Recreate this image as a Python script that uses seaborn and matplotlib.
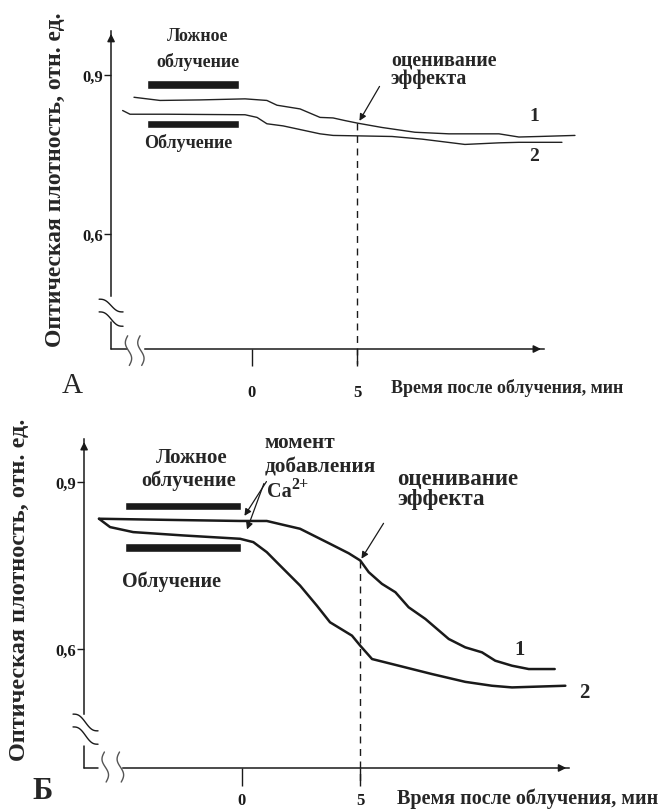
import matplotlib
matplotlib.use("Agg")
import matplotlib.pyplot as plt
import seaborn as sns
import numpy as np
import pandas as pd

sns.set_theme(style="white")
plt.rcParams["font.family"] = ["Liberation Serif", "DejaVu Serif"]
plt.rcParams["font.weight"] = "bold"

# ---------------- data (time, min ; optical density, rel. units) ----------------
a_t1 = [-5.62, -4.38, -2.48, -0.33, 0.71, 1.19, 2.29, 3.24, 3.86, 4.43, 5.05,
        6.19, 7.76, 9.38, 11.76, 12.71, 13.67, 15.38]
a_v1 = [0.858, 0.852, 0.853, 0.855, 0.852, 0.843, 0.836, 0.820, 0.819, 0.814,
        0.809, 0.801, 0.792, 0.789, 0.789, 0.783, 0.784, 0.786]
a_t2 = [-6.16, -5.81, -4.05, -0.33, 0.24, 0.71, 1.48, 3.24, 3.86, 6.67, 8.10,
        10.14, 11.76, 12.71, 14.76]
a_v2 = [0.833, 0.826, 0.826, 0.825, 0.820, 0.808, 0.804, 0.789, 0.786, 0.784,
        0.779, 0.769, 0.772, 0.773, 0.773]

b_t1 = [-6.06, -3.19, -0.08, 1.05, 1.75, 2.46, 3.73, 4.52, 5.01, 5.37, 5.93,
        6.50, 7.06, 7.77, 8.76, 9.46, 10.17, 10.73, 11.44, 12.15, 13.25]
b_v1 = [0.834, 0.832, 0.830, 0.830, 0.823, 0.816, 0.789, 0.772, 0.759, 0.738,
        0.717, 0.702, 0.675, 0.654, 0.618, 0.603, 0.594, 0.579, 0.570, 0.564, 0.564]
b_t2 = [-6.06, -5.59, -4.61, -2.49, -0.08, 0.48, 1.05, 1.47, 2.46, 3.17, 3.73,
        4.66, 5.01, 5.51, 6.64, 8.05, 9.46, 10.59, 11.44, 13.70]
b_v2 = [0.834, 0.819, 0.810, 0.804, 0.798, 0.792, 0.774, 0.756, 0.714, 0.678,
        0.648, 0.624, 0.606, 0.582, 0.570, 0.555, 0.541, 0.534, 0.531, 0.534]

y_ticks = [0.9, 0.6]
y_ticklabels = ["0,9", "0,6"]
x_ticks = [0, 5]
x_ticklabels = ["0", "5"]
eval_time = 5

a_bar_start = [-5.0, -5.0]
a_bar_end = [-0.62, -0.62]
a_bar_level = [0.882, 0.8075]
b_bar_start = [-4.96, -4.96]
b_bar_end = [-0.04, -0.04]
b_bar_level = [0.857, 0.782]

ylabel = "Оптическая плотность, отн. ед."
xlabel = "Время после облучения, мин"

fig = plt.figure(figsize=(6.64, 8.12), dpi=100)
axA = fig.add_axes([0, 412 / 812, 1, 400 / 812])
axB = fig.add_axes([0, 0, 1, 412 / 812])
for ax in (axA, axB):
    ax.patch.set_visible(False)
axA.set_xlim(-12, 19.62)
axA.set_ylim(0.2887, 1.0434)
axB.set_xlim(-10.254, 17.881)
axB.set_ylim(0.309, 1.0491)


def squiggle_h(ax, x0, x1, y0, y1, color="k"):
    s = np.linspace(0, 1, 50)
    x = x0 + (x1 - x0) * s
    y = y0 + (y1 - y0) * (s - np.sin(2 * np.pi * s) / (2 * np.pi))
    ax.plot(x, y, color=color, lw=1.0, clip_on=False)


def squiggle_v(ax, xc, amp, y0, y1, color="k"):
    s = np.linspace(0, 1, 50)
    y = y0 + (y1 - y0) * s
    x = xc - amp * np.sin(2 * np.pi * s) + amp * 0.6 * s
    ax.plot(x, y, color=color, lw=1.0, clip_on=False)


def frame(ax, yx, xv, ytop, xtip, ygap, xgap, xtick_len, xpad, ysq, xsq, sq_dx):
    for s in ["top", "right"]:
        ax.spines[s].set_visible(False)
    ax.spines["left"].set_position(("data", yx))
    ax.spines["bottom"].set_position(("data", xv))
    ax.spines["left"].set_bounds(ygap[1], ytop)
    ax.spines["bottom"].set_bounds(xgap[1], xtip)
    for s in ["left", "bottom"]:
        ax.spines[s].set_color("k")
        ax.spines[s].set_linewidth(1.1)
    ax.plot([yx, yx], [xv, ygap[0]], color="k", lw=1.1)
    ax.plot([yx, xgap[0]], [xv, xv], color="k", lw=1.1)
    ax.annotate("", xy=(yx, ytop), xytext=(yx, ytop - 0.02),
                arrowprops=dict(arrowstyle="-|>", color="k", lw=1.1, mutation_scale=11))
    ax.annotate("", xy=(xtip, xv), xytext=(xtip - 0.5, xv),
                arrowprops=dict(arrowstyle="-|>", color="k", lw=1.1, mutation_scale=11))
    ax.set_yticks(y_ticks, labels=y_ticklabels)
    ax.set_xticks(x_ticks, labels=x_ticklabels)
    ax.tick_params(axis="y", direction="out", length=5, width=1, pad=0.5,
                   labelsize=12, left=True, colors="k")
    ax.tick_params(axis="x", direction="out", length=xtick_len, width=1, pad=xpad,
                   labelsize=12, bottom=True, colors="k")
    for lab in ax.get_xticklabels() + ax.get_yticklabels():
        lab.set_fontweight("bold")
    ax.set_xlabel("")
    ax.set_ylabel("")
    # axis breaks
    for (y0, y1) in ysq:
        squiggle_h(ax, yx - sq_dx[0], yx + sq_dx[1], y0, y1)
    for xc in xsq[0]:
        squiggle_v(ax, xc, xsq[1], xsq[2], xsq[3], color="#555555")


# ---------------- panel A ----------------
frame(axA, -6.71, 0.383, 0.983, 13.9, (0.434, 0.483), (-5.95, -5.1), 12, 13,
      [(0.477, 0.453), (0.453, 0.426)], ([-5.92, -5.33], 0.13, 0.408, 0.352),
      (0.57, 0.57))
axA.barh(a_bar_level, np.array(a_bar_end) - np.array(a_bar_start), left=a_bar_start,
         height=0.016, color="k")
dfA1 = pd.DataFrame({"t": a_t1, "v": a_v1})
dfA2 = pd.DataFrame({"t": a_t2, "v": a_v2})
sns.lineplot(data=dfA1, x="t", y="v", ax=axA, color="#222222", lw=1.0,
             estimator=None, sort=False, legend=False)
sns.lineplot(data=dfA2, x="t", y="v", ax=axA, color="#222222", lw=1.0,
             estimator=None, sort=False, legend=False)
axA.set_xlabel("")
axA.set_ylabel("")
axA.plot([eval_time, eval_time], [0.809, 0.355], color="k", lw=1.0,
         ls=(0, (5, 4)), clip_on=False)
axA.annotate("", xy=(5.05, 0.809), xytext=(6.14, 0.883),
             arrowprops=dict(arrowstyle="-|>", color="k", lw=0.9, mutation_scale=10))
axA.text(-2.57, 0.974, "Ложное", ha="center", va="center", fontsize=13)
axA.text(-2.57, 0.926, "облучение", ha="center", va="center", fontsize=13)
axA.text(-3.02, 0.774, "Облучение", ha="center", va="center", fontsize=13)
axA.text(6.62, 0.930, "оценивание", ha="left", va="center", fontsize=14.3)
axA.text(6.62, 0.894, "эффекта", ha="left", va="center", fontsize=14.3)
axA.text(13.43, 0.823, "1", ha="center", va="center", fontsize=14)
axA.text(13.43, 0.749, "2", ha="center", va="center", fontsize=14)
axA.text(6.62, 0.311, xlabel, ha="left", va="center", fontsize=13)
axA.text(-8.57, 0.315, "А", ha="center", va="center", fontsize=21, fontweight="normal")
axA.text(-9.38, 0.704, ylabel, ha="center", va="center", rotation=90, fontsize=17)

# ---------------- panel Б ----------------
frame(axB, -6.69, 0.3863, 0.977, 13.86, (0.4258, 0.483), (-6.10, -5.04), 13, 4,
      [(0.483, 0.453), (0.46, 0.429)], ([-5.83, -5.19], 0.12, 0.415, 0.361),
      (0.47, 0.59))
axB.barh(b_bar_level, np.array(b_bar_end) - np.array(b_bar_start), left=b_bar_start,
         height=0.0155, color="k")
dfB1 = pd.DataFrame({"t": b_t1, "v": b_v1})
dfB2 = pd.DataFrame({"t": b_t2, "v": b_v2})
sns.lineplot(data=dfB1, x="t", y="v", ax=axB, color="k", lw=1.8,
             estimator=None, sort=False, legend=False)
sns.lineplot(data=dfB2, x="t", y="v", ax=axB, color="k", lw=1.8,
             estimator=None, sort=False, legend=False)
axB.set_xlabel("")
axB.set_ylabel("")
axB.plot([eval_time, eval_time], [0.758, 0.363], color="k", lw=1.0,
         ls=(0, (5, 4)), clip_on=False)
axB.annotate("", xy=(5.0, 0.758), xytext=(6.06, 0.83),
             arrowprops=dict(arrowstyle="-|>", color="k", lw=0.9, mutation_scale=10))
axB.annotate("", xy=(0.04, 0.835), xytext=(1.10, 0.905),
             arrowprops=dict(arrowstyle="-|>", color="k", lw=0.9, mutation_scale=10))
axB.annotate("", xy=(0.17, 0.81), xytext=(0.97, 0.902),
             arrowprops=dict(arrowstyle="-|>", color="k", lw=0.9, mutation_scale=10))
axB.text(-2.12, 0.945, "Ложное", ha="center", va="center", fontsize=15)
axB.text(-2.25, 0.9036, "облучение", ha="center", va="center", fontsize=14.7)
axB.text(-2.97, 0.7222, "Облучение", ha="center", va="center", fontsize=14.5)
axB.text(0.97, 0.9719, "момент", ha="left", va="center", fontsize=15.3)
axB.text(0.97, 0.927, "добавления", ha="left", va="center", fontsize=15.3)
ca = axB.text(1.06, 0.8838, "Ca", ha="left", va="center", fontsize=14.5)
axB.annotate("2+", xy=(1.0, 0.45), xycoords=ca, ha="left", va="bottom", fontsize=11.5)
axB.text(6.57, 0.9054, "оценивание", ha="left", va="center", fontsize=16.5)
axB.text(6.57, 0.8695, "эффекта", ha="left", va="center", fontsize=16.5)
axB.text(11.78, 0.600, "1", ha="center", va="center", fontsize=15)
axB.text(14.49, 0.523, "2", ha="center", va="center", fontsize=15)
axB.text(6.57, 0.333, xlabel, ha="left", va="center", fontsize=14.5)
axB.text(-8.43, 0.345, "Б", ha="center", va="center", fontsize=22)
axB.text(-9.41, 0.708, ylabel, ha="center", va="center", rotation=90, fontsize=17.5)

fig.savefig("out.png", dpi=100)
